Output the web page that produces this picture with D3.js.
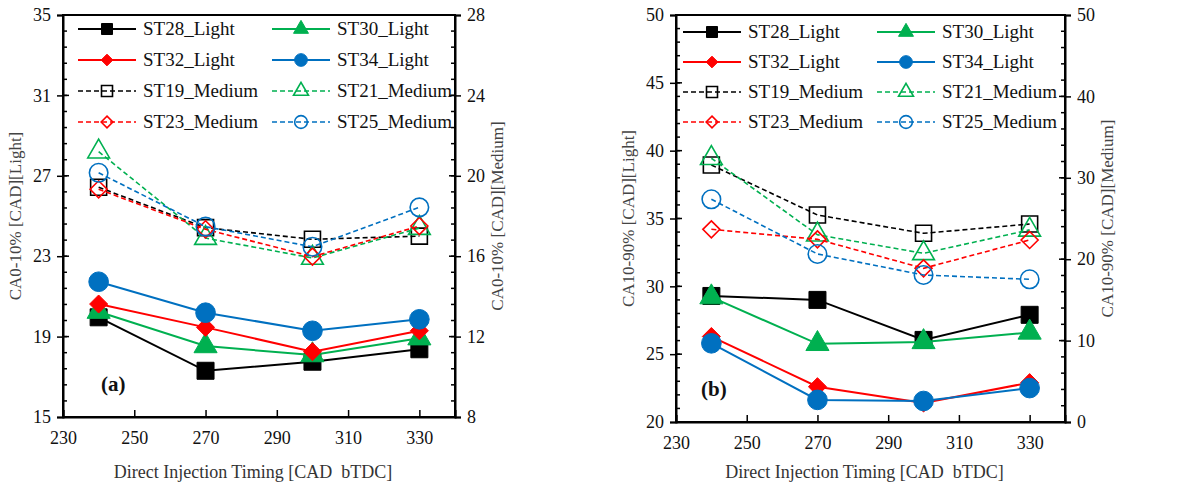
<!DOCTYPE html>
<html>
<head>
<meta charset="utf-8">
<script src="https://cdn.jsdelivr.net/npm/d3@7"></script>
<style>
  body { margin: 0; background: #fff; }
  svg text { font-family: "Liberation Serif", "Times New Roman", serif; }
</style>
</head>
<body>
<div id="vis"></div>
<script>
// x values (injection timing)
const timing = [240, 270, 300, 330];
const xTicks = [230, 250, 270, 290, 310, 330];

// panel (a) CA0-10
const a_ST28_Light = [19.96, 17.3, 17.75, 18.37];
const a_ST30_Light = [20.24, 18.53, 18.08, 18.92];
const a_ST32_Light = [20.62, 19.46, 18.25, 19.29];
const a_ST34_Light = [21.73, 20.19, 19.29, 19.86];
const a_ST19_Medium = [19.43, 17.42, 16.84, 17.0];
const a_ST21_Medium = [21.2, 16.9, 15.91, 17.4];
const a_ST23_Medium = [19.33, 17.34, 15.98, 17.5];
const a_ST25_Medium = [20.15, 17.47, 16.47, 18.43];

// panel (b) CA10-90
const b_ST28_Light = [29.29, 29.0, 26.05, 27.9];
const b_ST30_Light = [29.2, 25.76, 25.9, 26.6];
const b_ST32_Light = [26.3, 22.6, 21.4, 22.9];
const b_ST34_Light = [25.8, 21.63, 21.55, 22.5];
const b_ST19_Medium = [31.57, 25.43, 23.18, 24.32];
const b_ST21_Medium = [32.4, 23.0, 20.72, 23.6];
const b_ST23_Medium = [23.67, 22.44, 18.88, 22.36];
const b_ST25_Medium = [27.36, 20.64, 18.06, 17.53];

const aLeftTicks = [15, 19, 23, 27, 31, 35];
const aRightTicks = [8, 12, 16, 20, 24, 28];
const bLeftTicks = [20, 25, 30, 35, 40, 45, 50];
const bRightTicks = [0, 10, 20, 30, 40, 50];

const seriesNames = ['ST28_Light', 'ST30_Light', 'ST32_Light', 'ST34_Light',
  'ST19_Medium', 'ST21_Medium', 'ST23_Medium', 'ST25_Medium'];
const seriesColors = ['#000000', '#00b050', '#ff0000', '#0070c0',
  '#000000', '#00b050', '#ff0000', '#0070c0'];
const seriesShapes = ['square', 'triangle', 'diamond', 'circle',
  'square', 'triangle', 'diamond', 'circle'];

const svg = d3.select('#vis').append('svg')
  .attr('width', 1190).attr('height', 491);

const symbolType = {
  square: d3.symbolSquare,
  triangle: d3.symbolTriangle,
  diamond: d3.symbolDiamond2,
  circle: d3.symbolCircle
};
const sizeMul = { square: 1, triangle: 0.8, diamond: 0.72, circle: 1.05 };

function marker(g, shape, x, y, s, color, filled) {
  g.append('path')
    .attr('d', d3.symbol(symbolType[shape], s * s * sizeMul[shape])())
    .attr('transform', `translate(${x},${y})`)
    .attr('fill', filled ? color : 'none')
    .attr('stroke', color)
    .attr('stroke-width', filled ? 1 : 1.6);
}

function drawPanel(cfg) {
  const g = svg.append('g');
  const x = d3.scaleLinear().domain([230, 340]).range([cfg.left, cfg.right]);
  const yL = d3.scaleLinear().domain(cfg.leftDomain).range([cfg.bottom, cfg.top]);
  const yR = d3.scaleLinear().domain(cfg.rightDomain).range([cfg.bottom, cfg.top]);

  // frame
  g.append('rect')
    .attr('x', cfg.left).attr('y', cfg.top)
    .attr('width', cfg.right - cfg.left).attr('height', cfg.bottom - cfg.top)
    .attr('fill', 'none').attr('stroke', '#000').attr('stroke-width', 2);

  // minor ticks
  const lStep = (cfg.leftTicks[1] - cfg.leftTicks[0]) / 5;
  const rStep = (cfg.rightTicks[1] - cfg.rightTicks[0]) / 5;
  d3.range(cfg.leftDomain[0], cfg.leftDomain[1] + 1e-6, lStep).forEach(v => {
    g.append('line').attr('x1', cfg.left).attr('x2', cfg.left + 4)
      .attr('y1', yL(v)).attr('y2', yL(v)).attr('stroke', '#000').attr('stroke-width', 1.5);
  });
  d3.range(cfg.rightDomain[0], cfg.rightDomain[1] + 1e-6, rStep).forEach(v => {
    g.append('line').attr('x1', cfg.right).attr('x2', cfg.right - 4)
      .attr('y1', yR(v)).attr('y2', yR(v)).attr('stroke', '#000').attr('stroke-width', 1.5);
  });

  const xAxis = g.append('g').attr('transform', `translate(0,${cfg.bottom})`)
    .call(d3.axisBottom(x).tickValues(xTicks).tickSize(-7).tickPadding(14));
  const lAxis = g.append('g').attr('transform', `translate(${cfg.left},0)`)
    .call(d3.axisLeft(yL).tickValues(cfg.leftTicks).tickSize(6).tickPadding(6));
  const rAxis = g.append('g').attr('transform', `translate(${cfg.right},0)`)
    .call(d3.axisRight(yR).tickValues(cfg.rightTicks).tickSize(6).tickPadding(6));
  [xAxis, lAxis, rAxis].forEach(a => {
    a.select('.domain').attr('stroke-width', 2);
    a.selectAll('.tick line').attr('stroke-width', 1.5);
    a.selectAll('text').attr('font-size', 18).attr('fill', '#111')
      .attr('font-family', '"Liberation Serif", serif');
  });
  // inward part of major y ticks
  cfg.leftTicks.forEach(v => g.append('line').attr('x1', cfg.left).attr('x2', cfg.left + 6)
    .attr('y1', yL(v)).attr('y2', yL(v)).attr('stroke', '#000').attr('stroke-width', 1.5));
  cfg.rightTicks.forEach(v => g.append('line').attr('x1', cfg.right).attr('x2', cfg.right - 6)
    .attr('y1', yR(v)).attr('y2', yR(v)).attr('stroke', '#000').attr('stroke-width', 1.5));

  // axis titles
  g.append('text').attr('x', (cfg.left + cfg.right) / 2 - 6).attr('y', 478)
    .attr('text-anchor', 'middle').attr('font-size', 18).attr('fill', '#333')
    .text('Direct Injection Timing [CAD  bTDC]').style('white-space', 'pre');
  g.append('text')
    .attr('transform', `translate(${cfg.left - 42},${(cfg.top + cfg.bottom) / 2}) rotate(-90)`)
    .attr('text-anchor', 'middle').attr('font-size', 17).attr('fill', '#444')
    .text(cfg.leftTitle);
  g.append('text')
    .attr('transform', `translate(${cfg.right + 48},${(cfg.top + cfg.bottom) / 2}) rotate(-90)`)
    .attr('text-anchor', 'middle').attr('font-size', 17).attr('fill', '#444')
    .text(cfg.rightTitle);

  // series
  const line = d3.line();
  const order = [4, 5, 6, 7, 0, 1, 2, 3];
  order.forEach(i => {
    const vals = cfg.data[i];
    const medium = i >= 4;
    const ys = medium ? yR : yL;
    const pts = timing.map((t, j) => [x(t), ys(vals[j])]);
    g.append('path').attr('d', line(pts)).attr('fill', 'none')
      .attr('stroke', seriesColors[i]).attr('stroke-width', medium ? 1.6 : 2)
      .attr('stroke-dasharray', medium ? '5,3' : null);
    pts.forEach(p => marker(g, seriesShapes[i], p[0], p[1], medium ? 16 : 17, seriesColors[i], !medium));
  });

  // legend
  seriesNames.forEach((name, i) => {
    const col = i % 2, row = Math.floor(i / 2);
    const lx = cfg.legendX[col], ly = cfg.legendY + row * cfg.legendRow;
    const medium = i >= 4;
    g.append('line').attr('x1', lx).attr('x2', lx + 58).attr('y1', ly).attr('y2', ly)
      .attr('stroke', seriesColors[i]).attr('stroke-width', medium ? 1.6 : 2)
      .attr('stroke-dasharray', medium ? '5,3' : null);
    marker(g, seriesShapes[i], lx + 29, ly, 11, seriesColors[i], !medium);
    g.append('text').attr('x', lx + 65).attr('y', ly + 6).attr('font-size', 19)
      .attr('fill', '#111').text(name);
  });

  g.append('text').attr('x', cfg.tagX).attr('y', cfg.tagY).attr('font-size', 21)
    .attr('font-weight', 'bold').attr('fill', '#111').text(cfg.tag);
}

drawPanel({
  left: 63, right: 455, top: 15, bottom: 417,
  leftDomain: [15, 35], rightDomain: [8, 28],
  leftTicks: aLeftTicks, rightTicks: aRightTicks,
  leftTitle: 'CA0-10% [CAD][Light]', rightTitle: 'CA0-10% [CAD][Medium]',
  data: [a_ST28_Light, a_ST30_Light, a_ST32_Light, a_ST34_Light,
    a_ST19_Medium, a_ST21_Medium, a_ST23_Medium, a_ST25_Medium],
  legendX: [78, 272], legendY: 29, legendRow: 31,
  tag: '(a)', tagX: 101, tagY: 391
});

drawPanel({
  left: 676, right: 1065, top: 15, bottom: 422,
  leftDomain: [20, 50], rightDomain: [0, 50],
  leftTicks: bLeftTicks, rightTicks: bRightTicks,
  leftTitle: 'CA10-90% [CAD][Light]', rightTitle: 'CA10-90% [CAD][Medium]',
  data: [b_ST28_Light, b_ST30_Light, b_ST32_Light, b_ST34_Light,
    b_ST19_Medium, b_ST21_Medium, b_ST23_Medium, b_ST25_Medium],
  legendX: [683, 877], legendY: 32, legendRow: 30,
  tag: '(b)', tagX: 701, tagY: 396
});
</script>
</body>
</html>
